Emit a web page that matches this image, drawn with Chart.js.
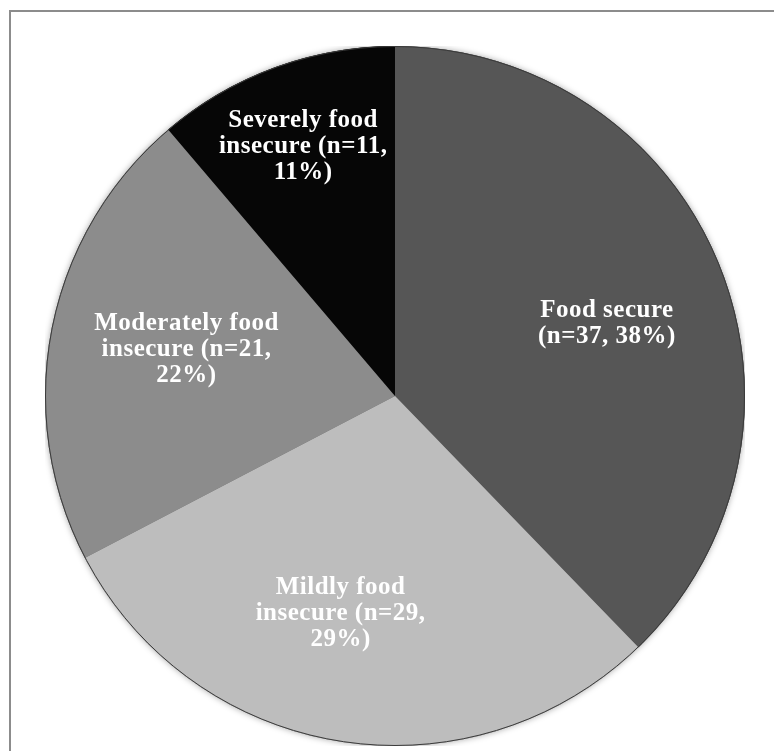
<!DOCTYPE html>
<html>
<head>
<meta charset="utf-8">
<script src="https://cdn.jsdelivr.net/npm/chart.js@4.4.0/dist/chart.umd.min.js"></script>
<style>
  html, body { margin: 0; padding: 0; background: #fff; }
  body { width: 774px; height: 751px; position: relative; overflow: hidden; }
  .frame {
    position: absolute; left: 9px; top: 10px; width: 770px; height: 800px;
    border-top: 2px solid #8c8c8c; border-left: 2px solid #8c8c8c;
    box-sizing: border-box;
  }
  .pie-wrap { position: absolute; left: 45px; top: 46px; width: 700px; height: 700px; }
</style>
</head>
<body>
<div class="frame"></div>
<div class="pie-wrap"><canvas id="foodChart"></canvas></div>
<script>
/* Food security status of respondents */
const categories = ['Food secure', 'Mildly food insecure', 'Moderately food insecure', 'Severely food insecure'];
const counts = [37, 29, 21, 11];
const percents = [38, 29, 22, 11];
const sliceColors = ['#565656', '#bdbdbd', '#8c8c8c', '#060606'];

// label text broken the way it sits inside each slice
const labelLines = [
  [categories[0], '(n=' + counts[0] + ', ' + percents[0] + '%)'],
  ['Mildly food', 'insecure (n=' + counts[1] + ',', percents[1] + '%)'],
  ['Moderately food', 'insecure (n=' + counts[2] + ',', percents[2] + '%)'],
  ['Severely food', 'insecure (n=' + counts[3] + ',', percents[3] + '%)']
];

/* Outer rim with a soft halo, drawn under and over the slices */
const rimPlugin = {
  id: 'rim',
  beforeDatasetsDraw(chart) {
    const arc = chart.getDatasetMeta(0).data[0];
    if (!arc) return;
    const ctx = chart.ctx;
    ctx.save();
    ctx.beginPath();
    ctx.arc(arc.x, arc.y, arc.outerRadius, 0, Math.PI * 2);
    ctx.fillStyle = '#777';
    ctx.shadowColor = 'rgba(0,0,0,0.35)';
    ctx.shadowBlur = 6;
    ctx.fill();
    ctx.restore();
  },
  afterDatasetsDraw(chart) {
    const arc = chart.getDatasetMeta(0).data[0];
    if (!arc) return;
    const ctx = chart.ctx;
    ctx.save();
    ctx.beginPath();
    ctx.arc(arc.x, arc.y, arc.outerRadius - 0.5, 0, Math.PI * 2);
    ctx.strokeStyle = '#3a3a3a';
    ctx.lineWidth = 1;
    ctx.stroke();
    ctx.restore();
  }
};

/* White slice labels, placed along each slice's mid angle */
const sliceLabelPlugin = {
  id: 'sliceLabels',
  afterDatasetsDraw(chart, args, opts) {
    const ctx = chart.ctx;
    const arcs = chart.getDatasetMeta(0).data;
    ctx.save();
    ctx.font = 'bold 25px "Liberation Serif", "DejaVu Serif", serif';
    ctx.letterSpacing = '0.5px';
    ctx.fillStyle = '#fff';
    ctx.textAlign = 'center';
    ctx.textBaseline = 'middle';
    arcs.forEach((arc, i) => {
      const mid = (arc.startAngle + arc.endAngle) / 2 + (opts.angleShift[i] || 0);
      const r = arc.outerRadius * opts.radius[i];
      const cx = arc.x + Math.cos(mid) * r;
      const cy = arc.y + Math.sin(mid) * r;
      const lines = labelLines[i];
      const lh = opts.lineHeight;
      const top = cy - (lines.length - 1) * lh / 2;
      lines.forEach((t, k) => ctx.fillText(t, cx, top + k * lh));
    });
    ctx.restore();
  }
};

new Chart(document.getElementById('foodChart'), {
  type: 'pie',
  data: {
    labels: categories,
    datasets: [{
      data: counts,
      backgroundColor: sliceColors,
      borderWidth: 0,
      hoverOffset: 0
    }]
  },
  options: {
    responsive: true,
    maintainAspectRatio: false,
    animation: false,
    layout: { padding: 0 },
    plugins: {
      legend: { display: false },
      tooltip: { enabled: false },
      sliceLabels: {
        radius: [0.64, 0.64, 0.61, 0.76],
        angleShift: [0.055, 0.085, 0.025, 0.0],
        lineHeight: 26
      }
    }
  },
  plugins: [rimPlugin, sliceLabelPlugin]
});
</script>
</body>
</html>
